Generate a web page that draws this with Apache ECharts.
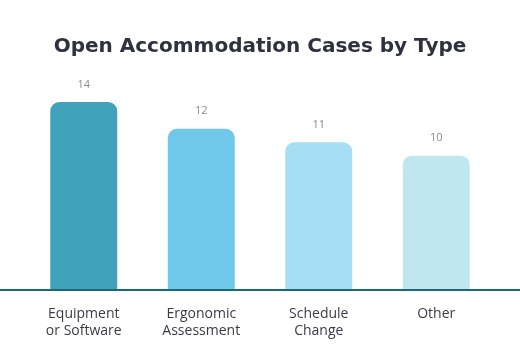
<!DOCTYPE html>
<html><head><meta charset="utf-8">
<script src="https://cdn.jsdelivr.net/npm/echarts@6/dist/echarts.min.js"></script>
<style>html,body{margin:0;padding:0;background:#fff}#c{width:520px;height:360px}</style>
</head><body><div id="c"></div>
<script>
const categories = ['Equipment\nor Software', 'Ergonomic\nAssessment', 'Schedule\nChange', 'Other'];
const values = [14, 12, 11, 10];
const colors = ['#41A2BC', '#6FC8EA', '#A6DEF4', '#C0E6EF'];

const chart = echarts.init(document.getElementById('c'), null, {renderer: 'canvas'});
chart.setOption({
  animation: false,
  title: {
    text: 'Open Accommodation Cases by Type',
    left: 'center', top: 32,
    textStyle: {fontFamily: 'DejaVu Sans', fontWeight: 'bold', fontSize: 20, color: '#30313F'}
  },
  grid: {left: 25, right: 25, top: 102, bottom: 70},
  xAxis: {
    type: 'category', data: categories,
    axisLine: {show: false},
    axisTick: {show: false},
    axisLabel: {fontFamily: 'Open Sans', fontSize: 14, color: '#3A3B4A', margin: 16, lineHeight: 17}
  },
  yAxis: {type: 'value', min: 0, max: 14, show: false, splitLine: {show: false}},
  series: [{
    type: 'bar', barWidth: '57%',
    data: values.map((v, i) => ({value: v, itemStyle: {color: colors[i]}})),
    itemStyle: {borderRadius: [9, 9, 0, 0]},
    label: {show: true, position: 'top', distance: 12, fontFamily: 'Open Sans', fontSize: 11, color: '#8A8A8A'}
  }]
});
const y0 = chart.convertToPixel({yAxisIndex: 0}, 0);
chart.setOption({
  graphic: [{type: 'line', shape: {x1: 0, y1: y0, x2: 520, y2: y0}, style: {stroke: '#1A6878', lineWidth: 2}, z: 10}]
});
</script></body></html>
